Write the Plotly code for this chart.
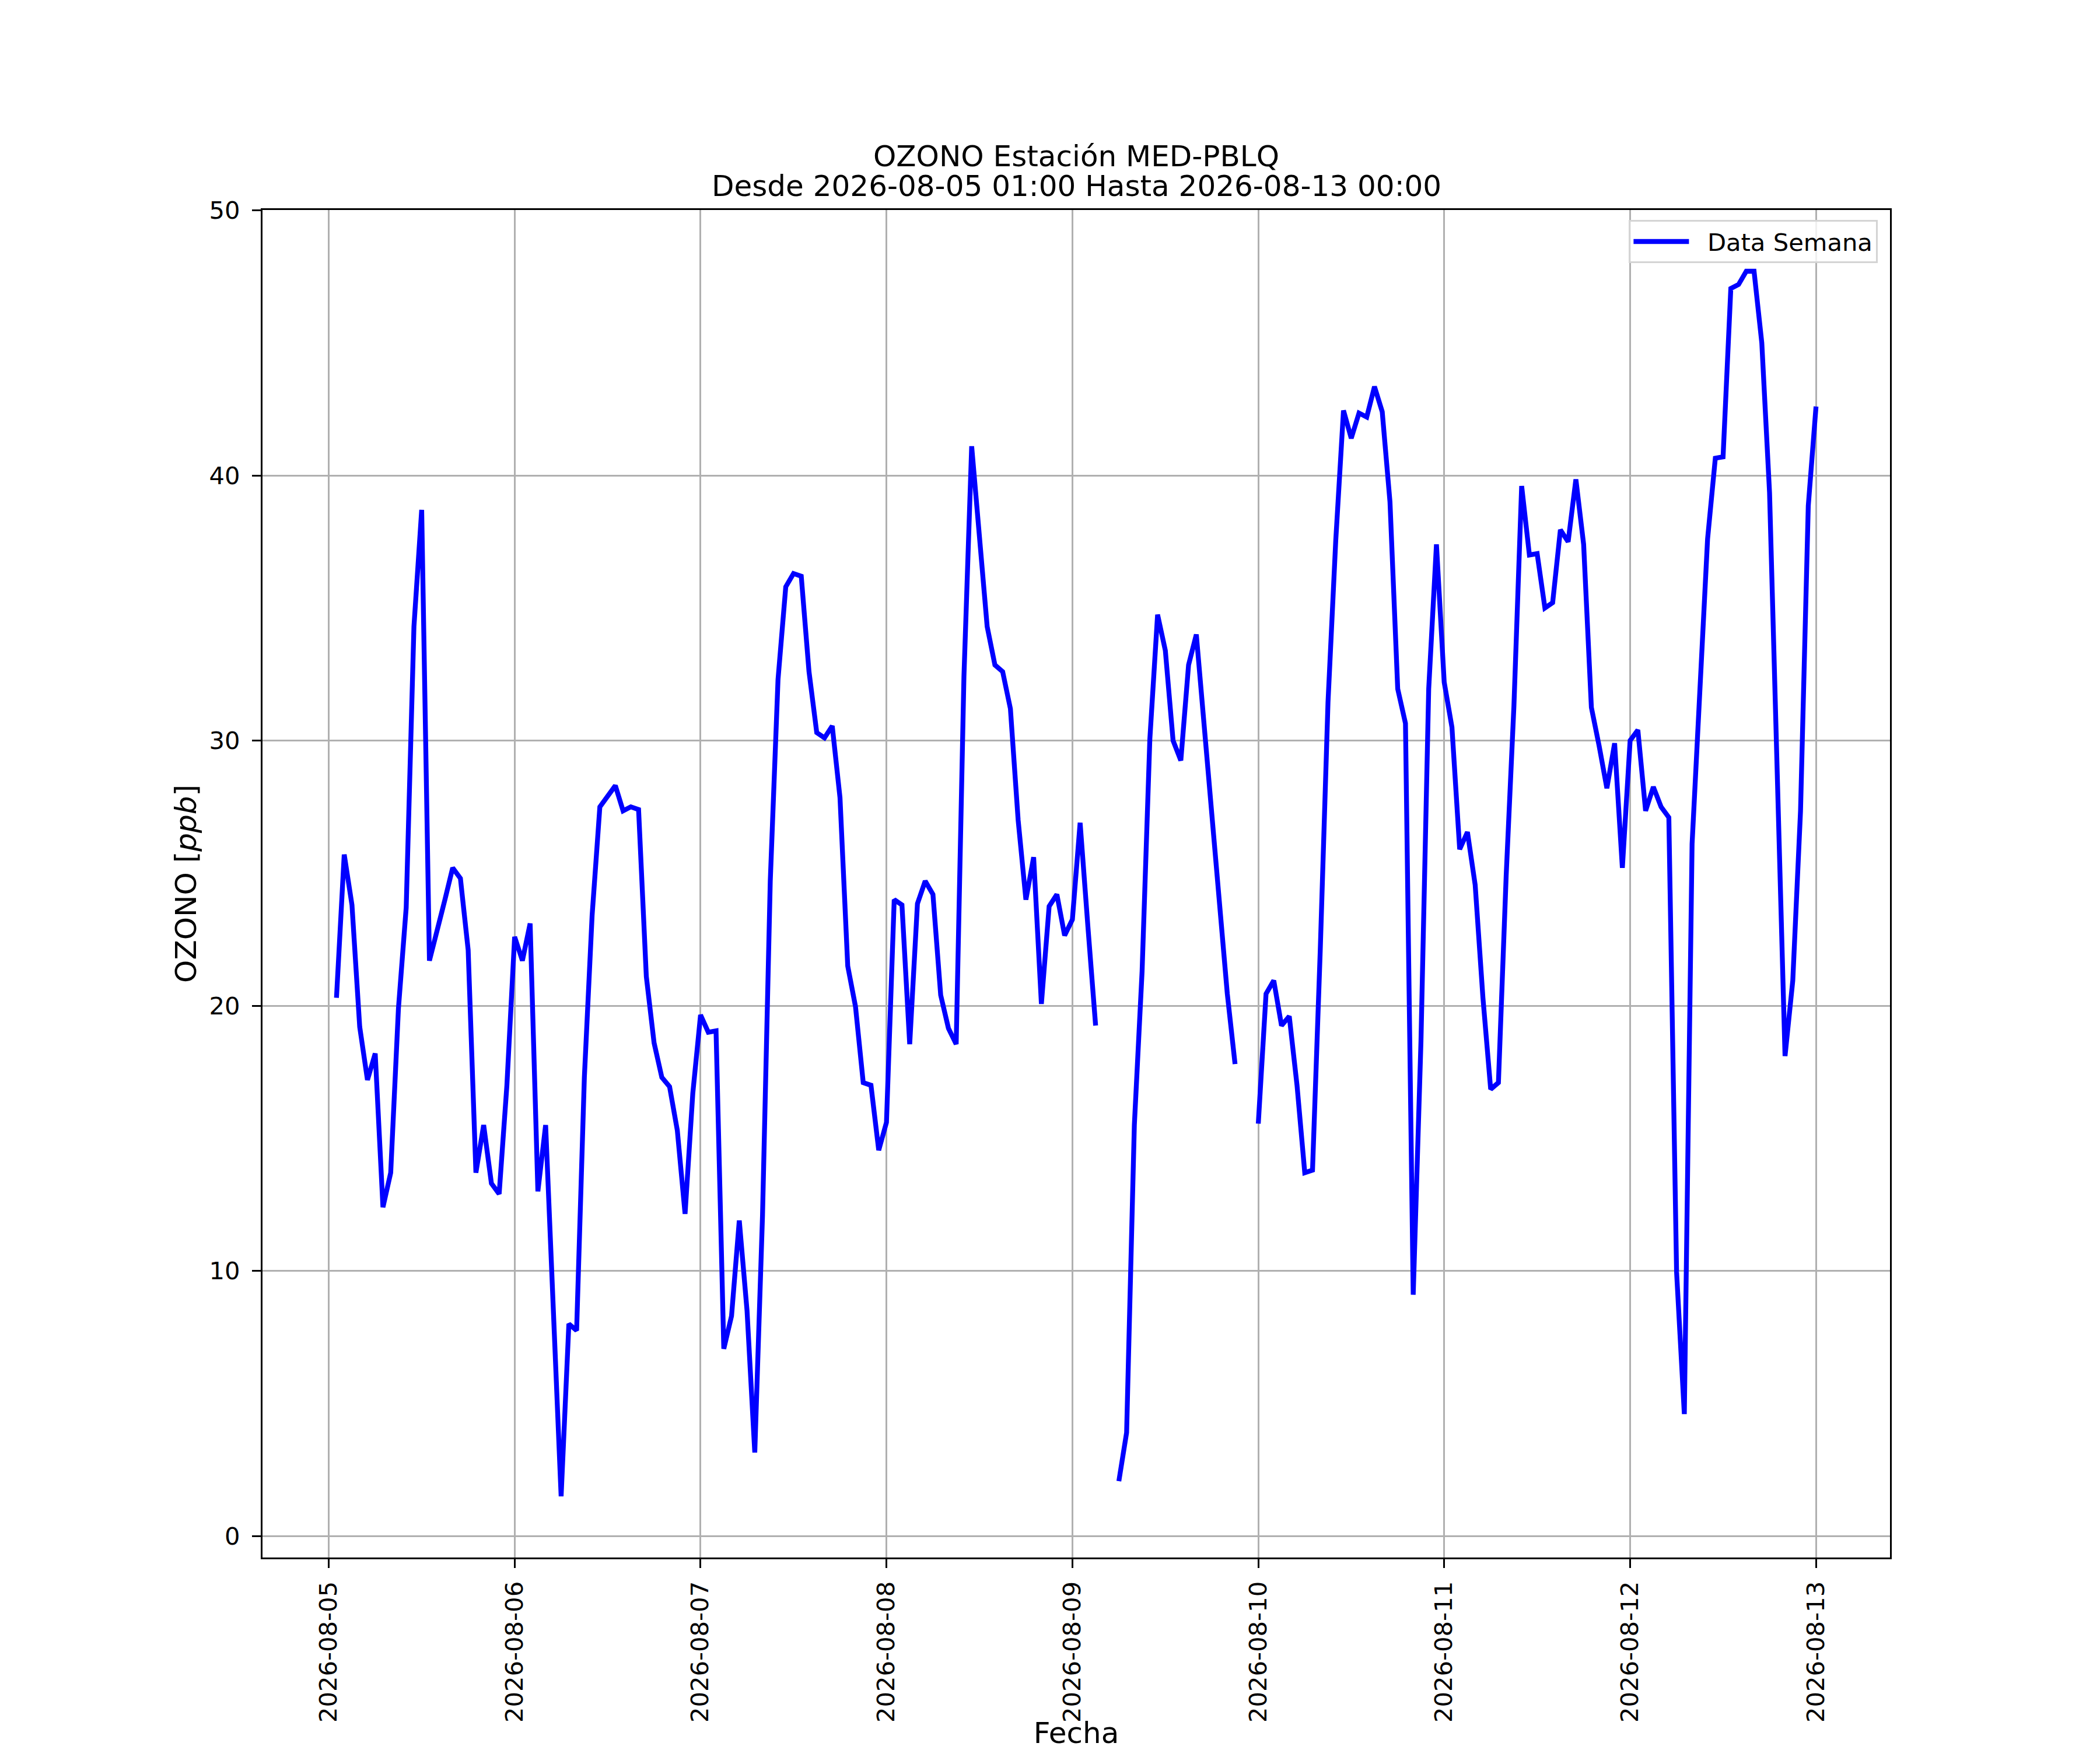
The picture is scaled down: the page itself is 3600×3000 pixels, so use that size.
import pandas as pd
import plotly.graph_objects as go

# Hourly ozone readings (ppb), each list = 24 consecutive hours
start_time = "2026-08-05 01:00"
day1 = [20.3, 25.7, 23.8, 19.2, 17.2, 18.2, 12.4, 13.7, 19.9, 23.7, 34.3, 38.7,
        21.7, 22.8, 24.0, 25.2, 24.8, 22.1, 13.7, 15.5, 13.3, 12.9, 17.0, 22.6]
day2 = [21.7, 23.1, 13.0, 15.5, 8.0, 1.5, 8.0, 7.75, 17.3, 23.4, 27.5, 27.9,
        28.3, 27.35, 27.5, 27.4, 21.1, 18.6, 17.3, 16.95, 15.3, 12.15, 16.7, 19.65]
day3 = [19.0, 19.05, 7.06, 8.3, 11.9, 8.5, 3.15, 12.1, 24.7, 32.3, 35.8, 36.3,
        36.2, 32.6, 30.3, 30.1, 30.55, 27.85, 21.5, 19.97, 17.1, 17.0, 14.55, 15.6]
day4 = [24.0, 23.8, 18.55, 23.85, 24.7, 24.2, 20.4, 19.15, 18.55, 32.4, 41.1, 37.7,
        34.3, 32.85, 32.6, 31.2, 27.0, 24.0, 25.6, 20.07, 23.75, 24.2, 22.65, 23.25]
day5 = [26.9, 23.0, 19.25, None, None, 2.07, 3.9, 15.5, 21.3, 30.05, 34.75, 33.4,
        30.0, 29.25, 32.85, 34.0, 30.6, 27.4, 23.75, 20.45, 17.8, None, None, 15.55]
day6 = [20.45, 20.95, 19.25, 19.6, 17.0, 13.7, 13.8, 22.1, 31.45, 37.55, 42.45, 41.4,
        42.35, 42.2, 43.35, 42.4, 39.0, 31.95, 30.65, 9.1, 18.65, 31.95, 37.4, 32.2]
day7 = [30.5, 25.9, 26.55, 24.55, 20.3, 16.85, 17.1, 24.9, 31.3, 39.6, 37.0, 37.05,
        35.0, 35.2, 37.95, 37.5, 39.85, 37.4, 31.25, 29.8, 28.2, 29.9, 25.2, 30.0]
day8 = [30.4, 27.35, 28.25, 27.5, 27.1, 9.95, 4.6, 26.1, 32.3, 37.6, 40.65, 40.7,
        47.05, 47.2, 47.7, 47.7, 45.0, 39.35, 28.7, 18.1, 20.95, 27.35, 38.85, 42.6]

values = day1 + day2 + day3 + day4 + day5 + day6 + day7 + day8
times = pd.date_range(start_time, periods=len(values), freq="h")

title_line1 = "OZONO Estación MED-PBLQ"
title_line2 = "Desde 2026-08-05 01:00 Hasta 2026-08-13 00:00"
x_label = "Fecha"
y_label = "OZONO [<i>ppb</i>]"
series_name = "Data Semana"

# matplotlib-like 5% margins
valid = [v for v in values if v is not None]
vmin, vmax = min(valid), max(valid)
ypad = 0.05 * (vmax - vmin)
span = times[-1] - times[0]
xr = [times[0] - 0.05 * span, times[-1] + 0.05 * span]

W, H = 3600, 3000
ML, MR, MT, MB = 450, 360, 360, 330
FONT = "DejaVu Sans"

fig = go.Figure()
fig.add_trace(go.Scatter(
    x=times, y=values, mode="lines", name="\u00a0\u00a0" + series_name,
    line=dict(color="#0000ff", width=8.3), connectgaps=False,
))

axis_common = dict(
    showline=True, linecolor="black", linewidth=3.3, mirror=True,
    ticks="outside", ticklen=15, tickwidth=3.3, tickcolor="black",
    showgrid=True, gridcolor="#b0b0b0", gridwidth=3.3,
    zeroline=False, tickfont=dict(family=FONT, size=41.7, color="black"),
)

fig.update_layout(
    width=W, height=H,
    margin=dict(l=ML, r=MR, t=MT, b=MB, autoexpand=False),
    paper_bgcolor="white", plot_bgcolor="white",
    font=dict(family=FONT, color="black"),
    title=dict(text=title_line1, x=(ML + (W - ML - MR) / 2) / W, xanchor="center",
               xref="container", yref="container", y=1 - 267 / H, yanchor="middle",
               font=dict(family=FONT, size=50, color="black")),
    showlegend=True,
    legend=dict(x=0.9925, y=0.9926, xanchor="right", yanchor="top",
                bgcolor="rgba(255,255,255,0.8)", bordercolor="#d4d4d4", borderwidth=3.3,
                font=dict(family=FONT, size=41.7, color="black"),
                itemwidth=95),
    xaxis=dict(axis_common, type="date", range=xr,
               tick0="2026-08-05", dtick=86400000, tickformat="%Y-%m-%d",
               tickangle=-90, ticklabelstandoff=6,
               title=dict(text=x_label, font=dict(family=FONT, size=50, color="black"),
                          standoff=24)),
    yaxis=dict(axis_common, range=[vmin - ypad, vmax + ypad],
               tick0=0, dtick=10, ticklabelstandoff=12,
               title=dict(text=y_label, font=dict(family=FONT, size=50, color="black"),
                          standoff=6)),
)

fig.add_annotation(
    text=title_line2, xref="paper", yref="paper", x=0.5, xanchor="center",
    y=(H - MB - 319) / (H - MT - MB), yanchor="middle", showarrow=False,
    font=dict(family=FONT, size=50, color="black"),
)

fig.write_html("out.html", config={"displayModeBar": False},
               post_script="document.body.style.margin='0';document.body.style.padding='0';")
